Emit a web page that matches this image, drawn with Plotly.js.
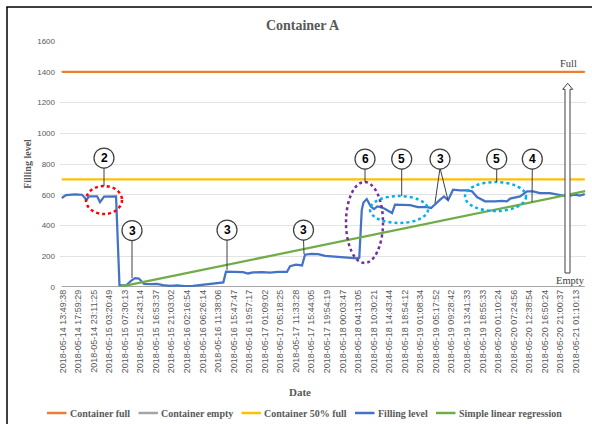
<!DOCTYPE html>
<html>
<head>
<meta charset="utf-8">
<script src="https://cdn.plot.ly/plotly-3.0.1.min.js"></script>
<style>html,body{margin:0;padding:0;background:#fff;}#chart{width:592px;height:424px;}</style>
</head>
<body>
<div id="chart"></div>
<script>
// ---------- DATA ----------
const dateLabels = [
  "2018-05-14 13:49:38","2018-05-14 17:59:29","2018-05-14 23:11:25","2018-05-15 03:20:49",
  "2018-05-15 07:30:13","2018-05-15 12:43:14","2018-05-15 16:53:37","2018-05-15 21:03:02",
  "2018-05-16 02:16:54","2018-05-16 06:26:14","2018-05-16 11:38:06","2018-05-16 15:47:47",
  "2018-05-16 19:57:17","2018-05-17 01:09:02","2018-05-17 05:18:25","2018-05-17 11:33:28",
  "2018-05-17 15:44:05","2018-05-17 19:54:19","2018-05-18 00:03:47","2018-05-18 04:13:05",
  "2018-05-18 10:30:21","2018-05-18 14:43:44","2018-05-18 18:54:12","2018-05-19 01:08:34",
  "2018-05-19 05:17:52","2018-05-19 09:28:42","2018-05-19 13:41:33","2018-05-19 18:55:33",
  "2018-05-20 01:10:24","2018-05-20 07:24:56","2018-05-20 12:38:54","2018-05-20 16:50:24",
  "2018-05-20 21:00:37","2018-05-21 01:10:13"
];
// position of each reading along the date axis (in tick-label units)
const fillIdx = [-0.06,0.21,0.79,1.24,1.54,1.69,2.21,2.40,2.66,3.04,3.43,3.65,4.07,4.39,4.65,4.90,
  5.23,5.61,6.06,6.45,6.90,7.35,7.86,8.38,8.83,9.35,9.79,10.33,10.50,11.08,11.59,11.92,12.24,12.82,
  13.33,13.85,14.42,14.62,15.00,15.39,15.58,15.97,16.42,16.88,17.38,17.90,18.41,18.93,19.07,19.23,
  19.34,19.55,19.81,20.02,20.23,20.47,20.73,21.05,21.18,21.37,21.82,22.33,22.85,23.43,23.69,23.95,
  24.27,24.52,24.78,25.10,25.55,26.06,26.32,26.64,27.16,27.80,28.25,28.57,28.77,29.41,29.86,30.24,
  30.69,31.33,31.78,32.16,32.61,32.93,33.25,33.57];
const fillLevel = [579,598,603,600,568,590,590,552,588,590,590,12,10,40,58,55,
  20,18,20,12,8,10,5,8,13,18,22,30,100,98,97,88,95,97,
  93,98,98,135,145,140,210,216,214,203,198,193,192,186,190,500,
  550,572,524,507,524,520,507,492,481,535,535,533,520,520,514,540,
  568,589,565,633,628,628,622,585,557,557,560,557,575,589,622,622,
  611,611,604,594,594,600,594,604];
const containerFull = 1400;
const containerEmpty = 0;
const containerHalf = 700;
const regressionIdx = [3.72, 33.6];
const regressionLevel = [2, 623];
const seriesNames = ["Container full","Container empty","Container 50% full","Filling level","Simple linear regression"];
const seriesColors = ["#ED7D31","#A5A5A5","#FFC000","#4472C4","#70AD47"];

// ---------- GEOMETRY HELPERS (for decorations) ----------
const W = 592, H = 424;
const M = {l:60, r:6, t:41, b:137};
const PW = W - M.l - M.r, PH = H - M.t - M.b;
const xRange = [-0.174, 33.65], yRange = [0, 1600];
const px2x = px => xRange[0] + (px - M.l) / PW * (xRange[1] - xRange[0]);
const py2y = py => yRange[0] + (H - M.b - py) / PH * (yRange[1] - yRange[0]);
const px2p = px => (px - M.l) / PW;
const py2p = py => (H - M.b - py) / PH;

const serif = "Liberation Serif, Times New Roman, serif";
const sans = "Liberation Sans, Arial, sans-serif";

// ---------- TRACES ----------
const constLine = v => fillIdx.map(() => v);
const traces = [
  {x: fillIdx, y: constLine(containerFull), name: seriesNames[0], mode: "lines", line: {color: seriesColors[0], width: 2.25}, hoverinfo: "skip"},
  {x: fillIdx, y: constLine(containerEmpty), name: seriesNames[1], mode: "lines", line: {color: seriesColors[1], width: 2.25}, hoverinfo: "skip"},
  {x: fillIdx, y: constLine(containerHalf), name: seriesNames[2], mode: "lines", line: {color: seriesColors[2], width: 2.25}, hoverinfo: "skip"},
  {x: fillIdx, y: fillLevel, name: seriesNames[3], mode: "lines", line: {color: seriesColors[3], width: 2.25}},
  {x: regressionIdx, y: regressionLevel, name: seriesNames[4], mode: "lines", line: {color: seriesColors[4], width: 2.25}}
];

// ---------- DECORATIONS ----------
const shapes = [];
const annotations = [];

// chart frame (left & top border)
shapes.push({type:"line", xref:"paper", yref:"paper", x0:px2p(7), x1:px2p(7), y0:py2p(7), y1:py2p(430), line:{color:"#000", width:1.5}, layer:"above"});
shapes.push({type:"line", xref:"paper", yref:"paper", x0:px2p(6.3), x1:px2p(600), y0:py2p(7), y1:py2p(7), line:{color:"#000", width:1.5}, layer:"above"});

// dotted ellipses [x0,x1,y0,y1 in px, color]
const ellipses = [
  [86, 122, 186, 214, "#FF0000"],
  [346, 383, 182, 263, "#7030A0"],
  [370, 428, 196, 223, "#00B0F0"],
  [465, 526, 182, 211, "#00B0F0"]
];
ellipses.forEach(e => shapes.push({type:"circle", xref:"x", yref:"y",
  x0:px2x(e[0]), x1:px2x(e[1]), y0:py2y(e[3]), y1:py2y(e[2]),
  line:{color:e[4], width:2.5, dash:"dot"}, layer:"above"}));

// callouts: [label, cx, cy, [[tx,ty],...] targets for leader lines]
const callouts = [
  ["2", 104, 158, [[104, 186]]],
  ["3", 132, 230.5, [[132, 278]]],
  ["3", 227, 230, [[227, 270]]],
  ["3", 303.5, 230, [[304, 254]]],
  ["6", 365, 159, [[365, 182]]],
  ["5", 401.7, 159, [[401.7, 196]]],
  ["3", 440, 159, [[435, 203], [448, 200]]],
  ["5", 496.7, 159, [[496.7, 182]]],
  ["4", 532.3, 159, [[532, 202]]]
];
callouts.forEach(c => {
  c[3].forEach(t => shapes.push({type:"line", xref:"x", yref:"y",
    x0:px2x(c[1]), y0:py2y(c[2] + 9), x1:px2x(t[0]), y1:py2y(t[1]),
    line:{color:"#404040", width:1}, layer:"above"}));
});
callouts.forEach(c => {
  shapes.push({type:"circle", xref:"x", yref:"y", xsizemode:"pixel", ysizemode:"pixel",
    xanchor:px2x(c[1]), yanchor:py2y(c[2]), x0:-10, x1:10, y0:-10, y1:10,
    fillcolor:"#fff", line:{color:"#404040", width:1.25}, layer:"above"});
  annotations.push({xref:"x", yref:"y", x:px2x(c[1]), y:py2y(c[2]), text:"<b>"+c[0]+"</b>",
    showarrow:false, xanchor:"center", yanchor:"middle", font:{family:sans, size:12, color:"#000"}});
});

// hollow vertical arrow Empty -> Full
const ax = [565, 570, 562.7, 572.7, 567.7], ay = [273, 89.3, 83.3];
shapes.push({type:"path", xref:"x", yref:"y", layer:"above",
  path:`M ${px2x(ax[0])},${py2y(ay[0])} L ${px2x(ax[0])},${py2y(ay[1])} L ${px2x(ax[2])},${py2y(ay[1])} L ${px2x(ax[4])},${py2y(ay[2])} L ${px2x(ax[3])},${py2y(ay[1])} L ${px2x(ax[1])},${py2y(ay[1])} L ${px2x(ax[1])},${py2y(ay[0])} Z`,
  fillcolor:"#fff", line:{color:"#404040", width:1}});
annotations.push({xref:"x", yref:"y", x:px2x(568.5), y:py2y(63.5), text:"Full", showarrow:false,
  xanchor:"center", yanchor:"middle", font:{family:serif, size:10.5, color:"#404040"}});
annotations.push({xref:"x", yref:"y", x:px2x(570), y:py2y(280), text:"Empty", showarrow:false,
  xanchor:"center", yanchor:"middle", font:{family:serif, size:10.5, color:"#404040"}});

// x-axis title
annotations.push({xref:"paper", yref:"paper", x:px2p(300), y:py2p(392), text:"<b>Date</b>", showarrow:false,
  xanchor:"center", yanchor:"middle", font:{family:serif, size:11, color:"#595959"}});

// custom legend
const legLineX = [47, 138.5, 241.5, 355, 436];
const legY = 413;
seriesNames.forEach((n, i) => {
  shapes.push({type:"line", xref:"paper", yref:"paper", x0:px2p(legLineX[i]), x1:px2p(legLineX[i] + 19.5),
    y0:py2p(legY), y1:py2p(legY), line:{color:seriesColors[i], width:2.5}});
  annotations.push({xref:"paper", yref:"paper", x:px2p(legLineX[i] + 20.5), y:py2p(legY), text:"<b>"+n+"</b>",
    showarrow:false, xanchor:"left", yanchor:"middle", font:{family:serif, size:10, color:"#595959"}});
});

const layout = {
  width: W, height: H,
  margin: M,
  paper_bgcolor: "#fff", plot_bgcolor: "#fff",
  showlegend: false,
  title: {text:"<b>Container A</b>", font:{family:serif, size:14, color:"#595959"},
    xref:"container", yref:"container", x:302.5/W, y:1 - 25/H, xanchor:"center", yanchor:"middle"},
  xaxis: {range: xRange, tickvals: dateLabels.map((_, i) => i), ticktext: dateLabels, tickangle: -90,
    showgrid:false, zeroline:false, showline:false, ticks:"",
    tickfont:{family:sans, size:9, color:"#595959"}},
  yaxis: {range: yRange, dtick: 200, tick0: 0, showgrid:true, gridcolor:"#D9D9D9", gridwidth:0.75,
    zeroline:false, showline:false, ticks:"", ticklabelstandoff: 4,
    tickfont:{family:sans, size:8, color:"#595959"},
    title:{text:"<b>Filling level</b>", font:{family:serif, size:10, color:"#595959"}, standoff: 3}},
  shapes: shapes,
  annotations: annotations
};

Plotly.newPlot("chart", traces, layout, {displayModeBar:false, staticPlot:true});
</script>
</body>
</html>
